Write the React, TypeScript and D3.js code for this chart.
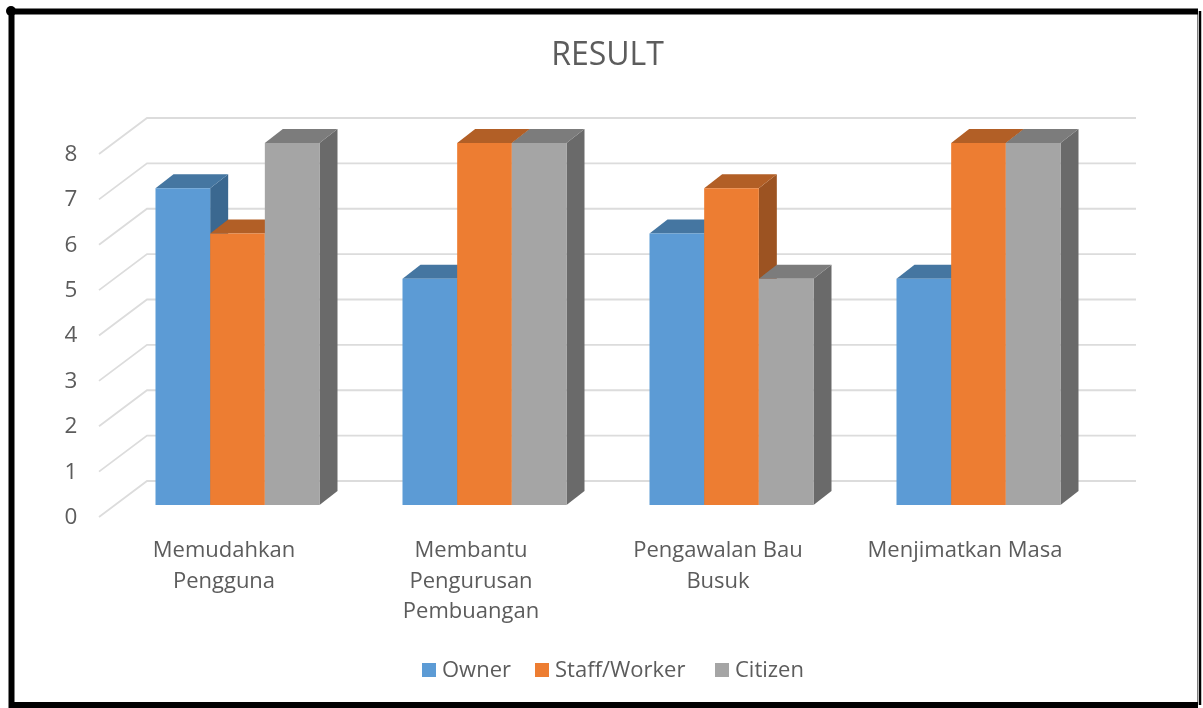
import React from "react";
import * as d3 from "d3";

const categories = ["Memudahkan Pengguna", "Membantu Pengurusan Pembuangan", "Pengawalan Bau Busuk", "Menjimatkan Masa"];
const categoryLines = [["Memudahkan", "Pengguna"], ["Membantu", "Pengurusan", "Pembuangan"], ["Pengawalan Bau", "Busuk"], ["Menjimatkan Masa"]];
const seriesNames = ["Owner", "Staff/Worker", "Citizen"];
const owner = [7, 5, 6, 5];
const staff = [6, 8, 7, 8];
const citizen = [8, 8, 5, 8];
const seriesValues = [owner, staff, citizen];
const ticks = [0, 1, 2, 3, 4, 5, 6, 7, 8];

const frontColors = ["#5b9bd5", "#ed7d31", "#a5a5a5"];
const topColors = ["#4476a1", "#b25e25", "#7c7c7c"];
const sideColors = ["#3a6790", "#9c5220", "#6a6a6a"];
const legendX = [422, 535, 715];

const FONT = "'Open Sans', sans-serif";
const TEXT = "#5c5c5c";
const depthX = 18;
const depthY = -14;

const App = () => {
  const width = 1203;
  const height = 708;

  const x0 = d3.scaleBand().domain(categories).range([100.5, 1088.5]);
  const x1 = d3.scaleBand().domain(seriesNames).range([-68.5, 95.5]);
  const yFront = d3.scaleLinear().domain([0, 8]).range([505, 143]);
  const yWall = d3.scaleLinear().domain([0, 8]).range([481, 118]);
  const yLabel = d3.scaleLinear().domain([0, 8]).range([516, 153]);

  const center = (c: string) => (x0(c) as number) + x0.bandwidth() / 2;

  return (
    <svg
      width={width}
      height={height}
      style={{ position: "absolute", left: 0, top: 0, background: "#fff" }}
    >
      <defs>
        <filter id="soft" x="0" y="0" width="100%" height="100%">
          <feGaussianBlur stdDeviation="0.6" />
        </filter>
      </defs>
      <g filter="url(#soft)">
        <rect x={0} y={0} width={width} height={height} fill="#fff" />

        {/* frame */}
        <path d="M11.5,11.5 H1200.5 V705 H11.5 Z" fill="none" stroke="#000" strokeWidth={6} />
        <rect x={1198} y={8} width={5} height={700} fill="#fff" />
        <path d="M1200,11 V705" stroke="#000" strokeWidth={2.5} />
        <circle cx={11} cy={11} r={5} fill="#000" />

        <text x={607.5} y={54} dy="0.35em" textAnchor="middle" fontFamily={FONT} fontSize={32} fill={TEXT}>
          RESULT
        </text>

        {/* back wall and floor gridlines */}
        {ticks.map((t) => (
          <path
            key={t}
            d={`M99,${yLabel(t) + 1} L147,${yWall(t)} H1136`}
            fill="none"
            stroke="#dcdcdc"
            strokeWidth={1.8}
          />
        ))}

        {ticks.map((t) => (
          <text key={t} x={71} y={yLabel(t)} dy="0.35em" textAnchor="middle" fontFamily={FONT} fontSize={22.5} fill={TEXT}>
            {t}
          </text>
        ))}

        {categories.map((c, ci) =>
          seriesNames.map((s, si) => {
            const left = center(c) + (x1(s) as number);
            const right = left + x1.bandwidth();
            const top = yFront(seriesValues[si][ci]);
            const base = yFront(0);
            return (
              <g key={s}>
                <path
                  d={`M${right},${top} L${right + depthX},${top + depthY} V${base + depthY} L${right},${base} Z`}
                  fill={sideColors[si]}
                />
                <path
                  d={`M${left},${top} L${left + depthX},${top + depthY} H${right + depthX} L${right},${top} Z`}
                  fill={topColors[si]}
                />
                <rect x={left} y={top} width={x1.bandwidth()} height={base - top} fill={frontColors[si]} />
              </g>
            );
          })
        )}

        {categories.map((c, ci) => (
          <text key={c} textAnchor="middle" fontFamily={FONT} fontSize={22} fill={TEXT}>
            {categoryLines[ci].map((line, li) => (
              <tspan key={line} x={center(c)} y={557 + li * 30.5}>
                {line}
              </tspan>
            ))}
          </text>
        ))}

        {seriesNames.map((s, si) => (
          <g key={s}>
            <rect x={legendX[si]} y={663} width={14} height={14} fill={frontColors[si]} />
            <text x={legendX[si] + 20} y={669.5} dy="0.35em" fontFamily={FONT} fontSize={22} fill={TEXT}>
              {s}
            </text>
          </g>
        ))}
      </g>
    </svg>
  );
};

export default App;
